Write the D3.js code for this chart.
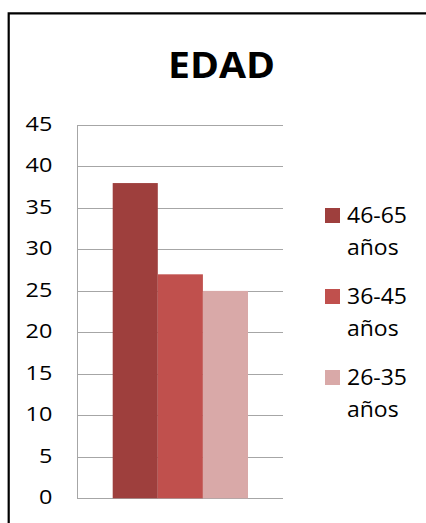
<!DOCTYPE html>
<html>
<head>
<meta charset="utf-8">
<script src="https://cdn.jsdelivr.net/npm/d3@7"></script>
<style>
html,body{margin:0;padding:0;background:#fff;}
svg{display:block;}
</style>
</head>
<body>
<svg id="chart" width="426" height="523"></svg>
<script>
const title = "EDAD";
const categories = ["46-65 años", "36-45 años", "26-35 años"];
const legendLine1 = ["46-65", "36-45", "26-35"];
const legendLine2 = ["años", "años", "años"];
const values = [38, 27, 25];
const colors = ["#9E3F3D", "#C0504D", "#D9A9A8"];
const yTicks = [0, 5, 10, 15, 20, 25, 30, 35, 40, 45];

(function () {
const svg = d3.select("#chart");
const font = "'Open Sans', 'DejaVu Sans', sans-serif";

// frame
svg.append("path")
  .attr("d", "M8.7,523 L8.7,13.3 L426,13.3")
  .attr("fill", "none").attr("stroke", "#000").attr("stroke-width", 2.2);

svg.append("g").attr("transform", "translate(221.6,78.3) scale(1.09,1)")
  .append("text")
  .attr("text-anchor", "middle")
  .attr("font-family", font).attr("font-weight", "bold")
  .attr("font-size", 36).attr("fill", "#000")
  .text(title);

const pL = 77, pR = 283, pT = 125, pB = 498.3;
const y = d3.scaleLinear().domain([0, 45]).range([pB, pT]);
const x = d3.scaleBand().domain(categories).range([112.7, 248]).paddingInner(0).paddingOuter(0);

// gridlines
svg.append("g").selectAll("line").data(yTicks).join("line")
  .attr("x1", pL).attr("x2", pR)
  .attr("y1", d => Math.round(y(d)) + 0.5).attr("y2", d => Math.round(y(d)) + 0.5)
  .attr("stroke", "#A6A6A6").attr("stroke-width", 1);

// y axis line
const yAxis = d3.axisLeft(y).tickValues(yTicks).tickSize(0).tickFormat("");
const ga = svg.append("g").attr("transform", `translate(${pL},0)`).call(yAxis);
ga.select(".domain").attr("stroke", "#A6A6A6").attr("d", `M0.5,${pT}V${pB}`);

// tick labels
svg.append("g").selectAll("g").data(yTicks).join("g")
  .attr("transform", d => `translate(52.3,${y(d) + 6}) scale(1.2,1)`)
  .append("text")
  .attr("text-anchor", "end")
  .attr("font-family", font).attr("font-size", 19.5).attr("fill", "#000")
  .text(d => d);

// bars
svg.append("g").selectAll("rect").data(values).join("rect")
  .attr("x", (d, i) => x(categories[i]))
  .attr("width", x.bandwidth())
  .attr("y", d => y(d))
  .attr("height", d => pB - y(d))
  .attr("fill", (d, i) => colors[i]);

// legend
const lg = svg.append("g").selectAll("g").data(categories).join("g")
  .attr("transform", (d, i) => `translate(325,${208 + i * 81})`);
lg.append("rect").attr("width", 15).attr("height", 15)
  .attr("fill", (d, i) => colors[i]);
lg.append("g").attr("transform", "translate(22,15) scale(1.07,1)")
  .append("text")
  .attr("font-family", font).attr("font-size", 21.5).attr("fill", "#000")
  .text((d, i) => legendLine1[i]);
lg.append("g").attr("transform", "translate(22,47) scale(1.07,1)")
  .append("text")
  .attr("font-family", font).attr("font-size", 21.5).attr("fill", "#000")
  .text((d, i) => legendLine2[i]);
})();
</script>
</body>
</html>
